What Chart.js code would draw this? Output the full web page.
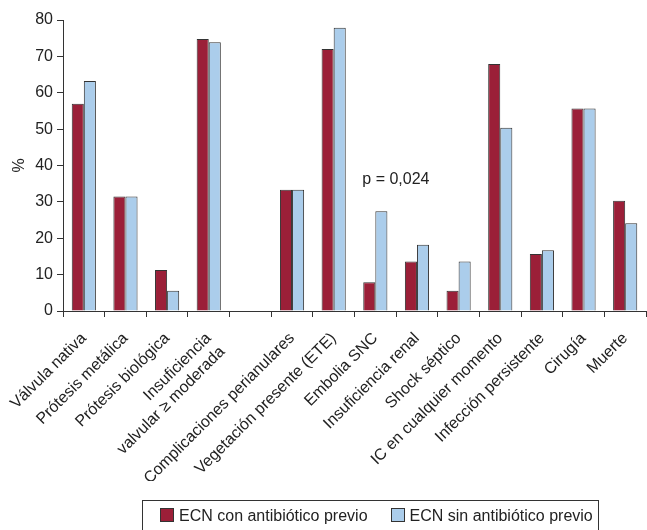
<!DOCTYPE html>
<html>
<head>
<meta charset="utf-8">
<script src="https://cdn.jsdelivr.net/npm/chart.js@4"></script>
<style>
  html, body { margin: 0; padding: 0; background: #fff; }
  #wrap { position: relative; width: 647px; height: 530px; }
  #legend {
    position: absolute; left: 142px; top: 500px; width: 457px; height: 40px;
    border: 1px solid #333; box-sizing: border-box;
    font: 16px 'Liberation Sans', Arial, sans-serif; color: #222;
    padding: 6px 0 0 17px; white-space: nowrap;
  }
  #legend span.sw {
    display: inline-block; width: 12px; height: 12px; border: 1px solid #333;
    vertical-align: -1px; margin-right: 5px;
  }
  #legend span.item { margin-right: 23px; }
</style>
</head>
<body>
<div id="wrap">
  <canvas id="chart"></canvas>
  <div id="legend"></div>
</div>
<script>
// Categories (one empty slot between groups, as in the figure)
const categories = [
    "Válvula nativa",
    "Prótesis metálica",
    "Prótesis biológica",
    ["Insuficiencia", "valvular ≥ moderada"],
    "",
    "Complicaciones perianulares",
    "Vegetación presente (ETE)",
    "Embolia SNC",
    "Insuficiencia renal",
    "Shock séptico",
    "IC en cualquier momento",
    "Infección persistente",
    "Cirugía",
    "Muerte"
];

// Series values (%)
const conAntibiotico = [57, 31.5, 11.3, 74.8, null, 33.3, 72, 7.9, 13.6, 5.6, 67.9, 15.7, 55.7, 30.3];
const sinAntibiotico = [63.2, 31.5, 5.6, 73.9, null, 33.3, 77.9, 27.4, 18.2, 13.6, 50.4, 16.7, 55.7, 24.1];

const seriesNames = ["ECN con antibiótico previo", "ECN sin antibiótico previo"];
const yTicks = [0, 10, 20, 30, 40, 50, 60, 70, 80];
const pNote = "p = 0,024";

const RED = "#9b1f38";
const BLUE = "#abcdeb";
const INK = "#222";
const FONT = "'Liberation Sans', Arial, sans-serif";

// Draws the p value over "Embolia SNC"
const pValuePlugin = {
    id: "pValue",
    afterDatasetsDraw(chart) {
        const { ctx, scales } = chart;
        const x = scales.x.getPixelForValue(7) - 13;
        const y = scales.y.getPixelForValue(36);
        ctx.save();
        ctx.font = "16px " + FONT;
        ctx.fillStyle = INK;
        ctx.textAlign = "left";
        ctx.textBaseline = "middle";
        ctx.fillText(pNote, x, y);
        ctx.restore();
    }
};

const ctx = document.getElementById("chart");
const chart = new Chart(ctx, {
    type: "bar",
    data: {
        labels: categories,
        datasets: [
            {
                label: seriesNames[0],
                data: conAntibiotico,
                backgroundColor: RED,
                borderColor: "#333",
                borderWidth: 1
            },
            {
                label: seriesNames[1],
                data: sinAntibiotico,
                backgroundColor: BLUE,
                borderColor: "#333",
                borderWidth: 1
            }
        ]
    },
    options: {
        responsive: true,
        maintainAspectRatio: false,
        animation: false,
        categoryPercentage: 0.58,
        barPercentage: 1.0,
        layout: { padding: { top: 20, right: 1, left: 0, bottom: 49 } },
        plugins: {
            legend: { display: false },
            tooltip: { enabled: false }
        },
        scales: {
            x: {
                grid: {
                    display: true,
                    drawOnChartArea: false,
                    drawTicks: true,
                    tickLength: 6,
                    color: "#333",
                    offset: true
                },
                border: { display: true, color: "#333", width: 1 },
                ticks: {
                    autoSkip: false,
                    minRotation: 45,
                    maxRotation: 45,
                    color: INK,
                    padding: 12,
                    font: { family: FONT, size: 16 }
                },
                afterFit(scale) {
                    scale.height = 170;
                    // keep the plot running to the right edge
                    scale.paddingLeft = 0;
                    scale.paddingRight = 0;
                }
            },
            y: {
                min: 0,
                max: 80,
                afterBuildTicks(scale) {
                    scale.ticks = yTicks.map(v => ({ value: v }));
                },
                grid: {
                    display: true,
                    drawOnChartArea: false,
                    drawTicks: true,
                    tickLength: 6,
                    color: "#333"
                },
                border: { display: true, color: "#333", width: 1 },
                ticks: {
                    color: INK,
                    padding: 4,
                    font: { family: FONT, size: 16 }
                },
                title: {
                    display: true,
                    text: "%",
                    color: INK,
                    padding: { top: 10, bottom: 0 },
                    font: { family: FONT, size: 16 }
                },
                afterFit(scale) { scale.width = 63; }
            }
        }
    },
    plugins: [pValuePlugin]
});

// HTML legend built from the dataset names and colours
const legendEl = document.getElementById("legend");
chart.data.datasets.forEach(ds => {
    const item = document.createElement("span");
    item.className = "item";
    const sw = document.createElement("span");
    sw.className = "sw";
    sw.style.background = ds.backgroundColor;
    item.appendChild(sw);
    item.appendChild(document.createTextNode(ds.label));
    legendEl.appendChild(item);
});
</script>
</body>
</html>
